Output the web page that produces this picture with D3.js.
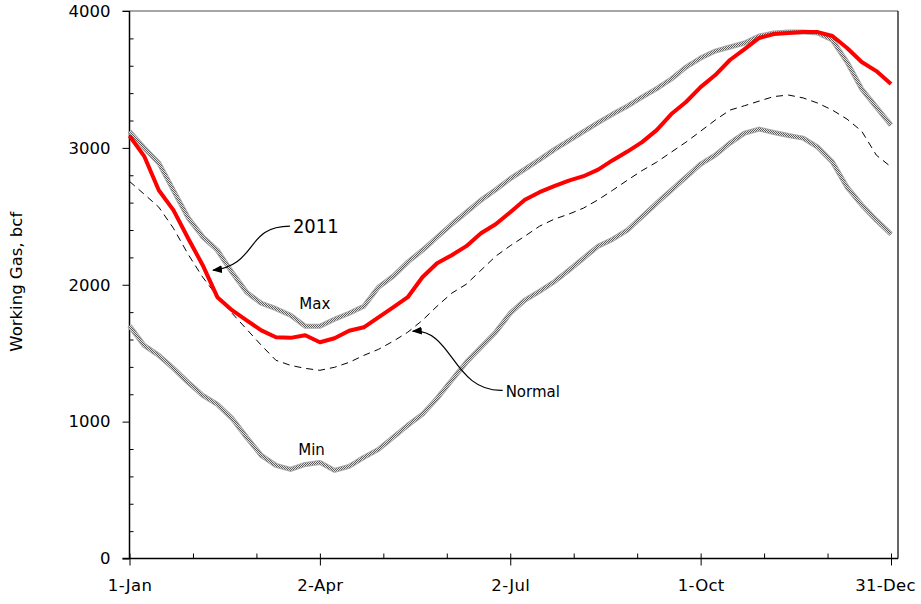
<!DOCTYPE html>
<html>
<head>
<meta charset="utf-8">
<script src="https://cdn.jsdelivr.net/npm/d3@7"></script>
<style>
  body { margin: 0; background: #fff; }
  text { font-family: "DejaVu Sans", sans-serif; fill: #000; }
</style>
</head>
<body>
<svg id="chart" width="921" height="604"></svg>
<script>
const WIDTH = 921;
const HEIGHT = 604;

// weekly points, days since 1-Jan
const days = d3.range(0, 365, 7);

const maxStorage = [3120, 3000, 2890, 2690, 2490, 2350, 2252, 2091, 1945, 1865, 1825, 1777, 1697, 1697,
  1748, 1792, 1843, 1982, 2062, 2165, 2252, 2347, 2442, 2530, 2618, 2694, 2775, 2845, 2914, 2987,
  3053, 3119, 3185, 3247, 3305, 3371, 3433, 3503, 3590, 3656, 3707, 3737, 3766, 3817, 3840, 3846,
  3846, 3840, 3788, 3627, 3430, 3298, 3166];

const minStorage = [1700, 1557, 1484, 1389, 1287, 1192, 1126, 1024, 885, 753, 680, 651, 687, 702,
  644, 673, 739, 797, 885, 973, 1053, 1170, 1302, 1433, 1543, 1653, 1792, 1887, 1952, 2022,
  2106, 2194, 2282, 2333, 2399, 2497, 2596, 2691, 2786, 2881, 2947, 3035, 3108, 3137, 3112, 3090,
  3071, 3005, 2896, 2713, 2583, 2472, 2370];

const normalStorage = [2755, 2662, 2567, 2413, 2223, 2055, 1916, 1792, 1675, 1558, 1448, 1411, 1389, 1375,
  1397, 1433, 1484, 1528, 1587, 1653, 1740, 1843, 1938, 2004, 2106, 2208, 2285, 2355, 2428, 2479,
  2516, 2560, 2621, 2691, 2764, 2834, 2896, 2969, 3042, 3122, 3203, 3276, 3308, 3342, 3375, 3386,
  3365, 3327, 3276, 3210, 3122, 2947, 2861];

const storage2011 = [3088, 2940, 2690, 2545, 2340, 2143, 1909, 1814, 1740, 1667, 1616, 1612, 1631, 1580,
  1609, 1664, 1689, 1762, 1835, 1909, 2055, 2157, 2216, 2282, 2376, 2442, 2530, 2621, 2676, 2720,
  2761, 2793, 2841, 2910, 2973, 3042, 3130, 3247, 3335, 3444, 3532, 3642, 3722, 3803, 3832, 3839,
  3846, 3846, 3817, 3730, 3627, 3561, 3466];

const xTickDays = [0, 91, 182, 273, 364];
const xTickLabels = ["1-Jan", "2-Apr", "2-Jul", "1-Oct", "31-Dec"];
const yTicks = [0, 1000, 2000, 3000, 4000];

const plotLeft = 129.5, plotRight = 898, plotTop = 11, plotBottom = 558.5;

const svg = d3.select("#chart");

const x = d3.scaleLinear().domain([0, 364]).range([plotLeft, 891]);
const y = d3.scaleLinear().domain([0, 4000]).range([plotBottom, plotTop]);

// checkered stroke used by the max / min envelope lines
const defs = svg.append("defs");
const pat = defs.append("pattern").attr("id", "checker")
  .attr("patternUnits", "userSpaceOnUse").attr("width", 2).attr("height", 2);
pat.append("rect").attr("width", 2).attr("height", 2).attr("fill", "#e4e4e4");
pat.append("rect").attr("width", 1).attr("height", 1).attr("fill", "#5a5a5a");
pat.append("rect").attr("x", 1).attr("y", 1).attr("width", 1).attr("height", 1).attr("fill", "#5a5a5a");

defs.append("marker").attr("id", "arrow")
  .attr("markerUnits", "userSpaceOnUse")
  .attr("viewBox", "0 0 10 8").attr("refX", 9).attr("refY", 4)
  .attr("markerWidth", 10).attr("markerHeight", 8).attr("orient", "auto")
  .append("path").attr("d", "M0,0 L10,4 L0,8 Z").attr("fill", "#000");

// frame: gray top, black right
svg.append("line").attr("x1", plotLeft - 7).attr("x2", plotRight).attr("y1", plotTop).attr("y2", plotTop)
  .attr("stroke", "#888").attr("stroke-width", 1.5);
svg.append("line").attr("x1", plotRight).attr("x2", plotRight).attr("y1", plotTop).attr("y2", plotBottom)
  .attr("stroke", "#000").attr("stroke-width", 1.2);

// y axis
const yMinor = d3.range(200, 4000, 200).filter(v => v % 1000 !== 0);
svg.append("g").attr("transform", `translate(${plotLeft},0)`)
  .call(d3.axisRight(y).tickValues(yMinor).tickSize(4).tickFormat(""))
  .call(g => g.select(".domain").remove());
const yAxis = svg.append("g").attr("transform", `translate(${plotLeft},0)`)
  .call(d3.axisLeft(y).tickValues(yTicks).tickSize(7).tickPadding(12).tickFormat(d3.format("d")));
yAxis.select(".domain").attr("d", `M0,${plotTop}V${plotBottom}`).attr("stroke-width", 1.5);
yAxis.selectAll("text").style("font-size", "16.5px");

// x axis
const xMinor = d3.range(0, 13).map(i => i * 91 / 3);
svg.append("g").attr("transform", `translate(0,${plotBottom})`)
  .call(d3.axisTop(x).tickValues(xMinor).tickSize(5).tickFormat(""))
  .call(g => g.select(".domain").remove());
const xAxis = svg.append("g").attr("transform", `translate(0,${plotBottom})`)
  .call(d3.axisBottom(x).tickValues(xTickDays).tickSize(7).tickPadding(14)
    .tickFormat((d, i) => xTickLabels[i]));
xAxis.select(".domain").attr("d", `M${plotLeft - 7},0H${plotRight}`).attr("stroke-width", 1.5);
xAxis.selectAll("text").style("font-size", "16.5px").style("letter-spacing", "0.3px");
// last label sits close to the right edge, as in the original
xAxis.selectAll("text").filter(d => d === 364).attr("dx", -6);

svg.append("text")
  .attr("transform", `translate(22,${(plotTop + plotBottom) / 2 - 3}) rotate(-90)`)
  .attr("text-anchor", "middle")
  .style("font-size", "16.5px")
  .text("Working Gas, bcf");

const line = d3.line().x((d, i) => x(days[i])).y(d => y(d));

// envelope lines
[maxStorage, minStorage].forEach(series => {
  svg.append("path").attr("d", line(series)).attr("fill", "none")
    .attr("stroke", "#a8a8a8").attr("stroke-width", 5).attr("stroke-linejoin", "round");
  svg.append("path").attr("d", line(series)).attr("fill", "none")
    .attr("stroke", "url(#checker)").attr("stroke-width", 3).attr("stroke-linejoin", "round");
});

svg.append("path").attr("d", line(normalStorage)).attr("fill", "none")
  .attr("stroke", "#000").attr("stroke-width", 1).attr("stroke-dasharray", "7,5");

svg.append("path").attr("d", line(storage2011)).attr("fill", "none")
  .attr("stroke", "#ff0000").attr("stroke-width", 4).attr("stroke-linejoin", "round");

// labels
svg.append("text").attr("x", x(88.6)).attr("y", y(1821)).attr("text-anchor", "middle")
  .style("font-size", "15px").text("Max");
svg.append("text").attr("x", x(87)).attr("y", y(753)).attr("text-anchor", "middle")
  .style("font-size", "15px").text("Min");

// annotation arrows
function arrow(from, to, c1, c2) {
  const p = d3.path();
  const [x0, y0] = [x(from[0]), y(from[1])];
  const [x1, y1] = [x(to[0]), y(to[1])];
  p.moveTo(x0, y0);
  p.bezierCurveTo(x0 + c1[0], y0 + c1[1], x1 + c2[0], y1 + c2[1], x1, y1);
  svg.append("path").attr("d", p.toString()).attr("fill", "none")
    .attr("stroke", "#000").attr("stroke-width", 1.2).attr("marker-end", "url(#arrow)");
}

arrow([76.7, 2428], [39.9, 2106], [-45, 0], [45, -5]);
svg.append("text").attr("x", x(78.1)).attr("y", y(2377))
  .style("font-family", "'DejaVu Sans Condensed', sans-serif").style("font-size", "20px").text("2011");

arrow([178.4, 1229], [135.4, 1660], [-50, 2], [40, -3]);
svg.append("text").attr("x", x(179.8)).attr("y", y(1177))
  .style("font-size", "15px").text("Normal");
</script>
</body>
</html>
